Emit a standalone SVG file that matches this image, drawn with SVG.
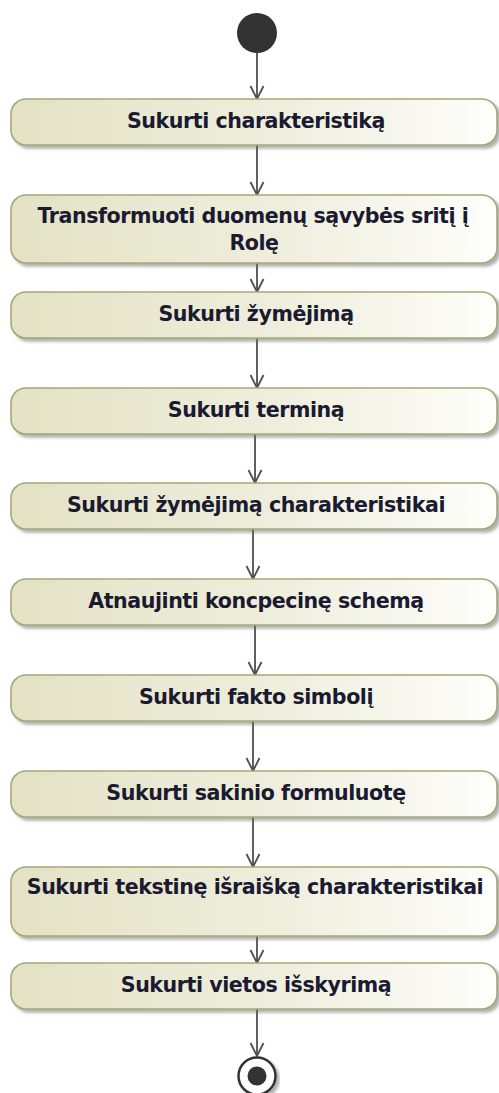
<svg xmlns="http://www.w3.org/2000/svg" width="499" height="1093" viewBox="0 0 499 1093">
  <style>
    .act { fill: url(#actFill); stroke: #a9a676; stroke-width: 1.6; filter: url(#shadow); }
    .lbl { font-family: "DejaVu Sans", "Liberation Sans", sans-serif; font-weight: bold; font-size: 20.6px; letter-spacing: -0.45px; fill: #1a1a30; text-anchor: middle; }
    .flow { stroke: #4f4f4f; stroke-width: 1.8; fill: none; marker-end: url(#open); }
  </style>
  <defs>
    <linearGradient id="actFill" x1="0" y1="0" x2="1" y2="0">
      <stop offset="0" stop-color="#e4e2c4"/>
      <stop offset="0.55" stop-color="#efeedd"/>
      <stop offset="1" stop-color="#fefefb"/>
    </linearGradient>
    <filter id="shadow" x="-5%" y="-20%" width="115%" height="150%">
      <feDropShadow dx="3" dy="3" stdDeviation="1.4" flood-color="#6f6f6f" flood-opacity="0.55"/>
    </filter>
    <marker id="open" viewBox="0 0 16 16" refX="14.5" refY="8" markerWidth="16" markerHeight="16" markerUnits="userSpaceOnUse" orient="auto">
      <path d="M1.5,1.5 L14.5,8 L1.5,14.5" fill="none" stroke="#4f4f4f" stroke-width="1.8"/>
    </marker>
  </defs>

  <!-- control flows -->
  <g id="connectors">
    <line class="flow" x1="257" y1="53" x2="257" y2="99"/>
    <line class="flow" x1="257" y1="145" x2="257" y2="195"/>
    <line class="flow" x1="257" y1="263" x2="257" y2="292"/>
    <line class="flow" x1="257" y1="338" x2="257" y2="388"/>
    <line class="flow" x1="255" y1="434" x2="255" y2="483"/>
    <line class="flow" x1="253" y1="529" x2="253" y2="579"/>
    <line class="flow" x1="255" y1="625" x2="255" y2="675"/>
    <line class="flow" x1="253" y1="721" x2="253" y2="771"/>
    <line class="flow" x1="253" y1="817" x2="253" y2="867"/>
    <line class="flow" x1="257" y1="936" x2="257" y2="963"/>
    <line class="flow" x1="257" y1="1009" x2="257" y2="1056"/>
  </g>

  <!-- initial node -->
  <g id="start">
    <circle cx="257" cy="33" r="20" fill="#333333"/>
  </g>

  <g id="a1">
    <rect class="act" x="11" y="99" width="486" height="46" rx="15"/>
    <text class="lbl" x="256" y="128">Sukurti charakteristiką</text>
  </g>
  <g id="a2">
    <rect class="act" x="11" y="195" width="486" height="68" rx="15"/>
    <text class="lbl" x="253" y="223">Transformuoti duomenų sąvybės sritį į</text>
    <text class="lbl" x="254" y="250">Rolę</text>
  </g>
  <g id="a3">
    <rect class="act" x="11" y="292" width="486" height="46" rx="15"/>
    <text class="lbl" x="256" y="321">Sukurti žymėjimą</text>
  </g>
  <g id="a4">
    <rect class="act" x="11" y="388" width="486" height="46" rx="15"/>
    <text class="lbl" x="256" y="417">Sukurti terminą</text>
  </g>
  <g id="a5">
    <rect class="act" x="11" y="483" width="486" height="46" rx="15"/>
    <text class="lbl" x="256" y="512">Sukurti žymėjimą charakteristikai</text>
  </g>
  <g id="a6">
    <rect class="act" x="11" y="579" width="486" height="46" rx="15"/>
    <text class="lbl" x="256" y="608">Atnaujinti koncpecinę schemą</text>
  </g>
  <g id="a7">
    <rect class="act" x="11" y="675" width="486" height="46" rx="15"/>
    <text class="lbl" x="256" y="704">Sukurti fakto simbolį</text>
  </g>
  <g id="a8">
    <rect class="act" x="11" y="771" width="486" height="46" rx="15"/>
    <text class="lbl" x="256" y="800">Sukurti sakinio formuluotę</text>
  </g>
  <g id="a9">
    <rect class="act" x="11" y="867" width="486" height="69" rx="15"/>
    <text class="lbl" x="255" y="894">Sukurti tekstinę išraišką charakteristikai</text>
  </g>
  <g id="a10">
    <rect class="act" x="11" y="963" width="486" height="46" rx="15"/>
    <text class="lbl" x="256" y="992">Sukurti vietos išskyrimą</text>
  </g>

  <!-- activity final node -->
  <g id="end">
    <circle cx="257" cy="1076" r="18.5" fill="#ffffff" stroke="#333333" stroke-width="2.5" filter="url(#shadow)"/>
    <circle cx="257" cy="1076" r="9.5" fill="#333333"/>
  </g>
</svg>
